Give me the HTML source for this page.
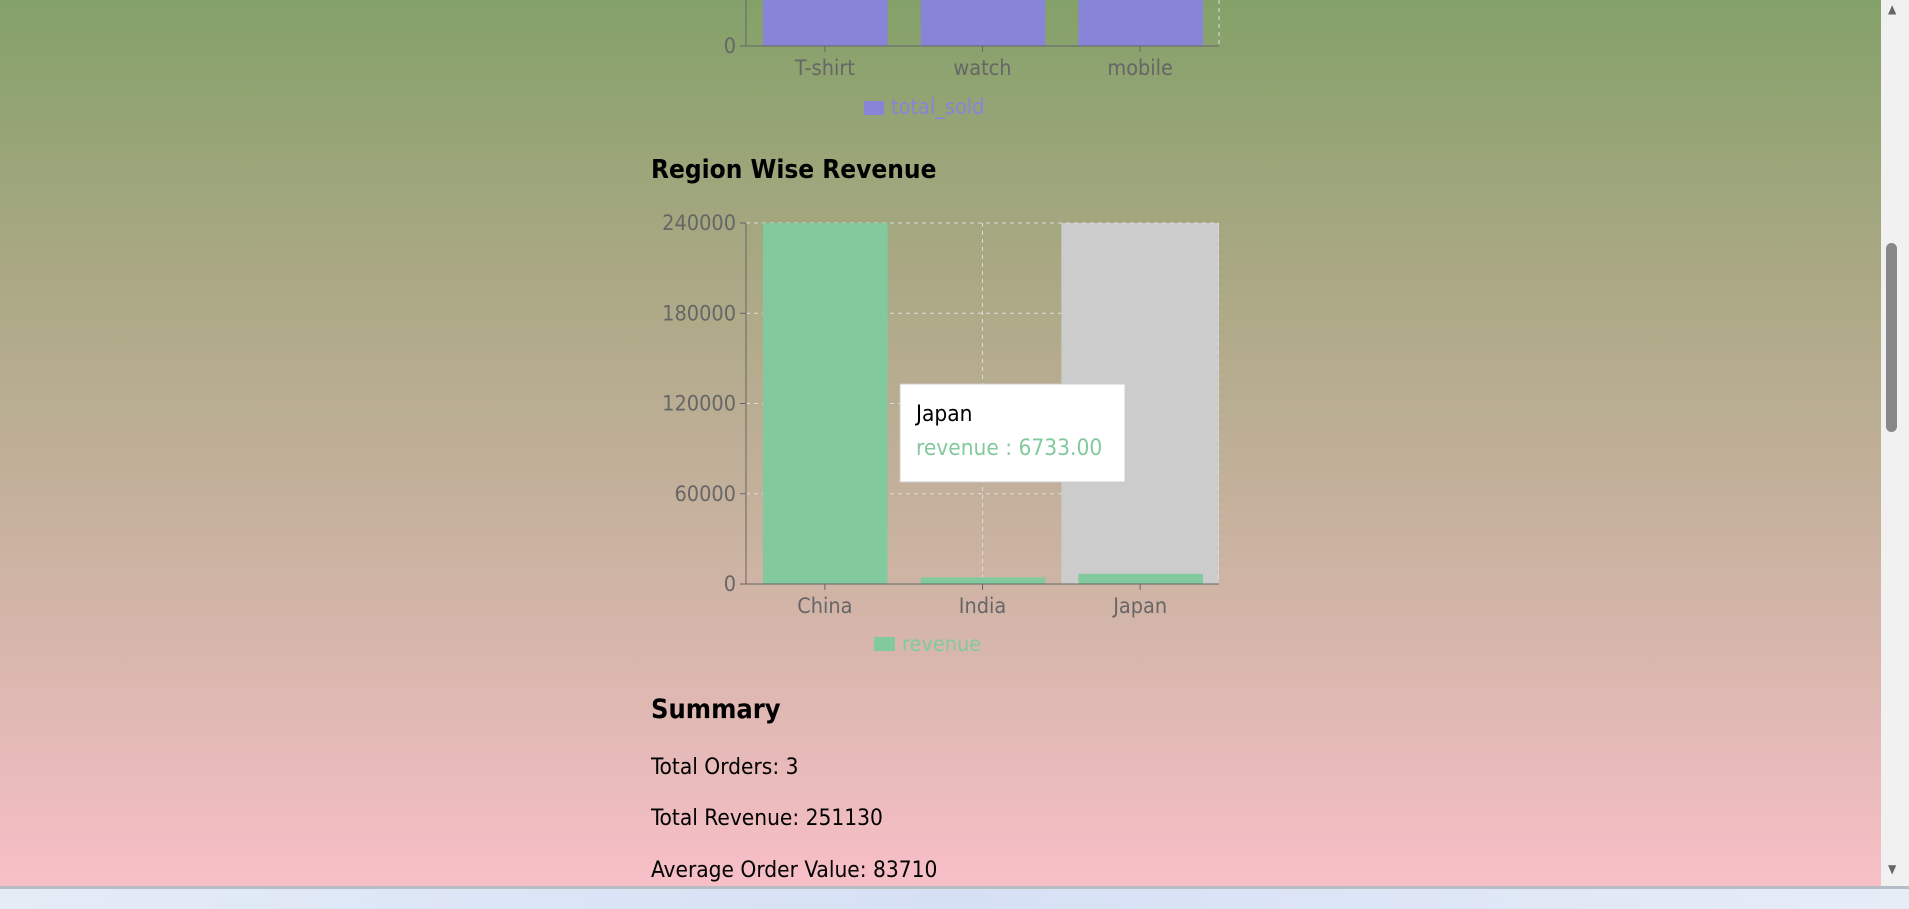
<!DOCTYPE html>
<html><head><meta charset="utf-8">
<style>
html,body{margin:0;padding:0;width:1909px;height:906px;overflow:hidden;font-family:"DejaVu Sans Condensed","DejaVu Sans","Liberation Sans",sans-serif;}
svg text{font-family:"DejaVu Sans Condensed","DejaVu Sans","Liberation Sans",sans-serif;}
#page{position:absolute;left:0;top:0;width:1881px;height:886px;background:linear-gradient(#84a169 0%,#a9a883 30%,#c8b29f 60%,#f8bfc7 100%);}
.t{position:absolute;white-space:nowrap;}
#scroll{position:absolute;left:1881px;top:0;width:28px;height:886px;background:#f1f1f1;}
#thumb{position:absolute;left:1886px;top:243px;width:11px;height:189px;background:#888;border-radius:6px;}
#taskbar{position:absolute;left:0;top:886px;width:1909px;height:20px;background:linear-gradient(90deg,#e4ecf6,#d6e0f5,#e6edf7);border-top:3px solid #b8bcc4;}
</style></head><body>
<div id="page"></div>
<svg id="chart" width="1881" height="886" style="position:absolute;left:0;top:0"></svg>
<div class="t" style="left:651px;top:155px;font-size:26px;font-weight:bold;color:#000">Region Wise Revenue</div>
<div class="t" style="left:651px;top:694px;font-size:27px;font-weight:bold;color:#000">Summary</div>
<div class="t" style="left:651px;top:754px;font-size:22.5px;color:#000">Total Orders: 3</div>
<div class="t" style="left:651px;top:805px;font-size:22.5px;color:#000">Total Revenue: 251130</div>
<div class="t" style="left:651px;top:857px;font-size:22.5px;color:#000">Average Order Value: 83710</div>
<div id="scroll"></div>
<div id="thumb"></div>
<div class="t" style="left:1888px;top:2px;font-size:12px;color:#666">▲</div>
<div class="t" style="left:1888px;top:862px;font-size:12px;color:#666">▼</div>
<div id="taskbar"></div>
<script>
const productCats=["T-shirt","watch","mobile"];
const regionCats=["China","India","Japan"];
const revenue=[240000,4397,6733];
const revTicks=[0,60000,120000,180000,240000];
const NS="http://www.w3.org/2000/svg";
const svg=document.getElementById('chart');
function mk(tag,attrs,parent){const e=document.createElementNS(NS,tag);for(const k in attrs)e.setAttribute(k,attrs[k]);(parent||svg).appendChild(e);return e;}
const X0=746,X1=1219,band=(X1-X0)/3;
function bx(i){return X0+band*i;}
const FS=21.5;
// top chart (partially visible)
const topBase=46;
{const l=mk('line',{x1:X1,y1:0,x2:X1,y2:topBase,stroke:'#ddd','stroke-dasharray':'4 4'});}
productCats.forEach((c,i)=>{
 const r=mk('rect',{x:bx(i)+17,y:0,width:band-33,height:topBase,fill:'#8884d8'});
 
 
 mk('line',{x1:bx(i)+band/2,y1:topBase,x2:bx(i)+band/2,y2:topBase+6,stroke:'#666'});
 const t=mk('text',{x:bx(i)+band/2,y:topBase+29,'text-anchor':'middle','font-size':FS,fill:'#666'});t.textContent=c;
 
 
});
mk('line',{x1:X0,y1:0,x2:X0,y2:topBase,stroke:'#666'});
mk('line',{x1:X0,y1:topBase,x2:X1,y2:topBase,stroke:'#666'});
mk('line',{x1:X0-6,y1:topBase,x2:X0,y2:topBase,stroke:'#666'});
{const t=mk('text',{x:X0-10,y:topBase+7,'text-anchor':'end','font-size':FS,fill:'#666'});t.textContent='0';}
{const r=mk('rect',{x:864,y:101,width:20,height:14,fill:'#8884d8'});
 const t=mk('text',{x:891,y:114,'font-size':FS,fill:'#8884d8'});t.textContent='total_sold';}
// revenue chart
const Y0=584,Y1=223,maxV=240000;
function y(v){return Y0-(v/maxV)*(Y0-Y1);}
revTicks.forEach(v=>{if(v>0){const l=mk('line',{x1:X0,y1:y(v),x2:X1,y2:y(v),stroke:'#ddd','stroke-dasharray':'4 4'});}});
regionCats.forEach((c,i)=>{const l=mk('line',{x1:bx(i)+band/2,y1:Y1,x2:bx(i)+band/2,y2:Y0,stroke:'#ddd','stroke-dasharray':'4 4'});});
{const r=mk('rect',{x:bx(2),y:Y1,width:band,height:Y0-Y1,fill:'#ccc'});}
{const l=mk('line',{x1:X1-0.5,y1:Y1,x2:X1-0.5,y2:Y0,stroke:'#ddd','stroke-dasharray':'4 4'});}
{const l=mk('line',{x1:X0,y1:Y1,x2:X1,y2:Y1,stroke:'#ddd','stroke-dasharray':'4 4'});}
revenue.forEach((v,i)=>{
 const r=mk('rect',{x:bx(i)+17,y:y(v),width:band-33,height:Y0-y(v),fill:'#82ca9d'});
 
 
 mk('line',{x1:bx(i)+band/2,y1:Y0,x2:bx(i)+band/2,y2:Y0+6,stroke:'#666'});
 const t=mk('text',{x:bx(i)+band/2,y:Y0+29,'text-anchor':'middle','font-size':FS,fill:'#666'});t.textContent=regionCats[i];
 
 
});
revTicks.forEach(v=>{
 mk('line',{x1:X0-6,y1:y(v),x2:X0,y2:y(v),stroke:'#666'});
 const t=mk('text',{x:X0-10,y:y(v)+7,'text-anchor':'end','font-size':FS,fill:'#666'});t.textContent=v;
 
 
});
mk('line',{x1:X0,y1:Y1,x2:X0,y2:Y0,stroke:'#666'});
mk('line',{x1:X0,y1:Y0,x2:X1,y2:Y0,stroke:'#666'});
{const r=mk('rect',{x:874,y:637,width:21,height:14,fill:'#82ca9d'});
 const t=mk('text',{x:902,y:651,'font-size':FS,fill:'#82ca9d'});t.textContent='revenue';}
{const g=mk('g',{});
 mk('rect',{x:900,y:384,width:225,height:98,fill:'#fff',stroke:'#ccc'},g);
 const a=mk('text',{x:916,y:421,'font-size':22.5,fill:'#000'},g);a.textContent=regionCats[2];
 const b=mk('text',{x:916,y:455,'font-size':22.5,fill:'#82ca9d'},g);b.textContent='revenue : '+revenue[2].toFixed(2);}
</script>
</body></html>
